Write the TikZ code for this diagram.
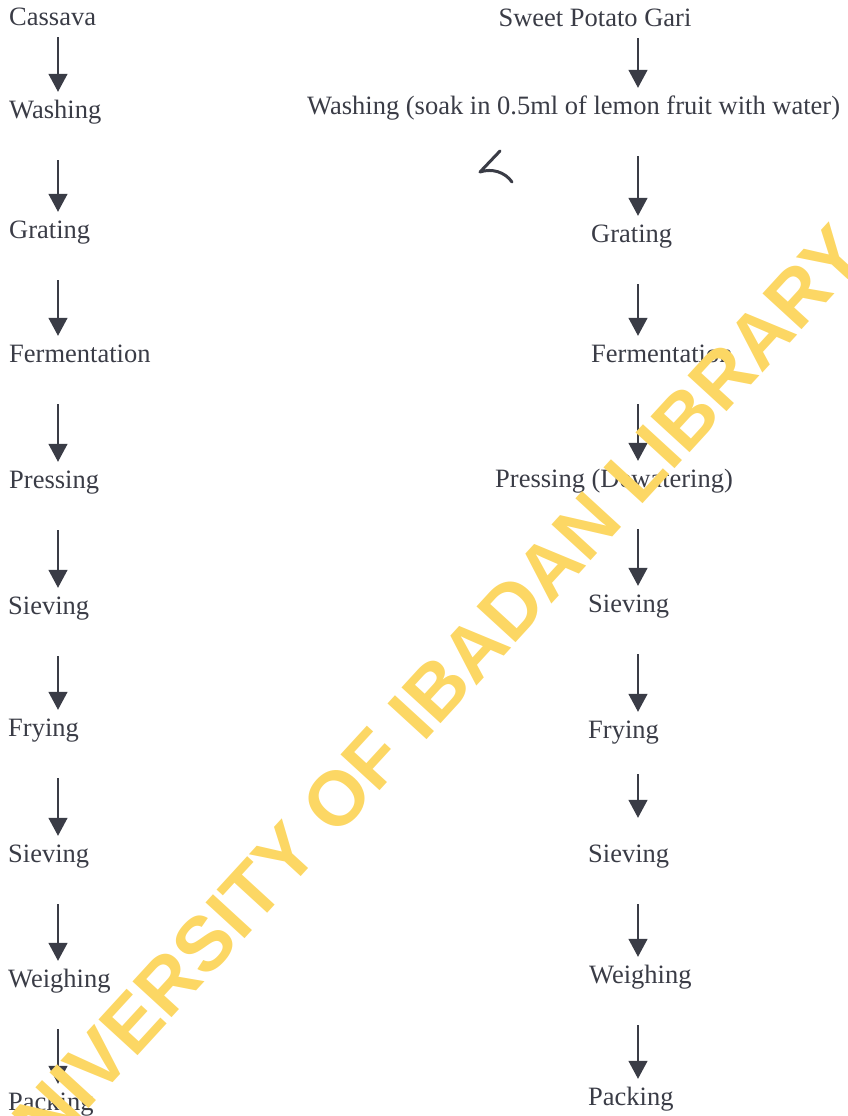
\documentclass[tikz,border=0pt]{standalone}
\usepackage{fontspec}
\setmainfont{Liberation Serif}
\newfontfamily\wmfont{Liberation Sans}
\usetikzlibrary{arrows.meta, positioning}
\definecolor{inkgray}{RGB}{58,60,70}
\definecolor{wmyellow}{RGB}{252,215,100}

\begin{document}
\begin{tikzpicture}[x=1pt, y=-1pt,
    stage/.style={anchor=base west, inner sep=0pt, text height=18pt, text depth=6pt, text=inkgray, font=\fontsize{26.5}{30}\selectfont},
    arr/.style={-{Triangle[width=19pt,length=18pt]}, draw=inkgray, line width=1.4pt, shorten <=36pt, shorten >=8pt},
    watermark/.style={rotate=47.5, inner sep=0pt, text=wmyellow, font=\wmfont\bfseries\fontsize{77}{80}\selectfont},
    scribble/.style={draw=inkgray, line width=3pt, line cap=round, line join=round}
  ]
    \useasboundingbox (0,0) rectangle (848,1116);
    \coordinate (lcol) at (58,0);
    \coordinate (rcol) at (638,0);

    % cassava gari
    \node[stage] (cassava) at (9,26) {Cassava};
    \node[stage] (wash1) at (9,118) {Washing};
    \node[stage] (grate1) at (9,238) {Grating};
    \node[stage] (ferm1) at (9,362) {Fermentation};
    \node[stage] (press1) at (9,488) {Pressing};
    \node[stage] (sieve1) at (8,614) {Sieving};
    \node[stage] (fry1) at (8,736) {Frying};
    \node[stage] (sieve1b) at (8,862) {Sieving};
    \node[stage] (weigh1) at (8,987) {Weighing};
    \node[stage] (pack1) at (8,1110) {Packing};

    % sweet potato gari
    \node[stage, anchor=base] (gari) at (595,27) {Sweet Potato Gari};
    \node[stage] (wash2) at (307,114) {Washing (soak in 0.5ml of lemon fruit with water)};
    \node[stage] (grate2) at (591,242) {Grating};
    \node[stage] (ferm2) at (591,362) {Fermentation};
    \node[stage] (press2) at (495,487) {Pressing (Dewatering)};
    \node[stage] (sieve2) at (588,612) {Sieving};
    \node[stage] (fry2) at (588,738) {Frying};
    \node[stage] (sieve2b) at (588,862) {Sieving};
    \node[stage] (weigh2) at (589,983) {Weighing};
    \node[stage] (pack2) at (588,1105) {Packing};

    \draw[arr, shorten <=5pt] (cassava.south -| lcol) -- (wash1.north -| lcol);
    \draw[arr] (wash1.south -| lcol) -- (grate1.north -| lcol);
    \draw[arr] (grate1.south -| lcol) -- (ferm1.north -| lcol);
    \draw[arr] (ferm1.south -| lcol) -- (press1.north -| lcol);
    \draw[arr] (press1.south -| lcol) -- (sieve1.north -| lcol);
    \draw[arr] (sieve1.south -| lcol) -- (fry1.north -| lcol);
    \draw[arr] (fry1.south -| lcol) -- (sieve1b.north -| lcol);
    \draw[arr] (sieve1b.south -| lcol) -- (weigh1.north -| lcol);
    \draw[arr] (weigh1.south -| lcol) -- (pack1.north -| lcol);

    \draw[arr, shorten <=5pt] (gari.south -| rcol) -- (wash2.north -| rcol);
    \draw[arr] (wash2.south -| rcol) -- (grate2.north -| rcol);
    \draw[arr] (grate2.south -| rcol) -- (ferm2.north -| rcol);
    \draw[arr] (ferm2.south -| rcol) -- (press2.north -| rcol);
    \draw[arr] (press2.south -| rcol) -- (sieve2.north -| rcol);
    \draw[arr] (sieve2.south -| rcol) -- (fry2.north -| rcol);
    \draw[arr, shorten <=30pt, shorten >=26pt] (fry2.south -| rcol) -- (sieve2b.north -| rcol);
    \draw[arr] (sieve2b.south -| rcol) -- (weigh2.north -| rcol);
    \draw[arr] (weigh2.south -| rcol) -- (pack2.north -| rcol);

    % pen mark
    \draw[scribble] (500,151) -- (480,172) .. controls (492,168) and (505,172) .. (512,182);

    \node[watermark] (stamp) at (420,708) {UNIVERSITY OF IBADAN LIBRARY};
\end{tikzpicture}
\end{document}
